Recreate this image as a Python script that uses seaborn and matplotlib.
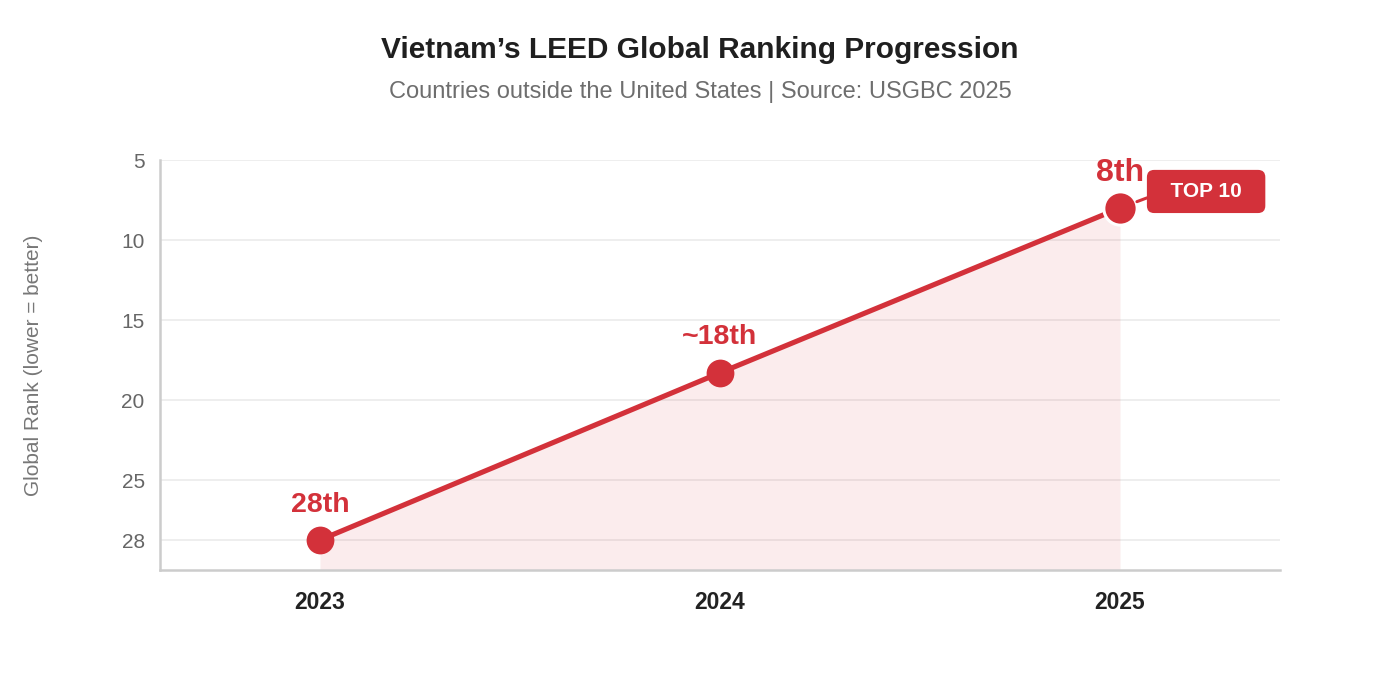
import matplotlib
matplotlib.use("Agg")
import matplotlib.pyplot as plt
import seaborn as sns
import pandas as pd
import numpy as np

years = [2023, 2024, 2025]
ranks = [28, 18.3, 8]
rank_labels = ["28th", "~18th", "8th"]
ytick_values = [5, 10, 15, 20, 25, 28]
xtick_labels = ["2023", "2024", "2025"]
badge_text = "  TOP 10  "
title = "Vietnam\u2019s LEED Global Ranking Progression"
subtitle = "Countries outside the United States | Source: USGBC 2025"
ylabel = "Global Rank (lower = better)"

RED = "#d3313a"
df = pd.DataFrame({"year": years, "rank": ranks})

sns.set_theme(style="white")
plt.rcParams["font.family"] = ["Liberation Sans", "DejaVu Sans"]

fig = plt.figure(figsize=(14, 6.8), dpi=100)
ax = fig.add_axes([160/1400, 110/680, 1120/1400, 410/680])


def fwd(y):
    y = np.asarray(y, dtype=float)
    return np.where(y <= 25, y, 25 + (y - 25) * 1.25)


def inv(y):
    y = np.asarray(y, dtype=float)
    return np.where(y <= 25, y, 25 + (y - 25) / 1.25)


ax.set_yscale("function", functions=(fwd, inv))

ymax = 29.5
ax.fill_between(df["year"], df["rank"], ymax, color=RED, alpha=0.09, linewidth=0, zorder=1)
sns.lineplot(data=df, x="year", y="rank", ax=ax, color=RED, linewidth=3.7, zorder=3)
sns.scatterplot(data=df.iloc[:2], x="year", y="rank", ax=ax, color=RED, s=400,
                edgecolor=RED, linewidth=0, zorder=4)
sns.scatterplot(data=df.iloc[2:], x="year", y="rank", ax=ax, color=RED, s=576,
                edgecolor="white", linewidth=2.2, zorder=5)

ax.set_xlim(2022.6, 2025.4)
ax.set_ylim(ymax, 5)
ax.set_yticks(ytick_values)
ax.set_yticklabels([str(v) for v in ytick_values], fontsize=15, color="#666666")
ax.yaxis.set_minor_locator(matplotlib.ticker.NullLocator())
ax.set_xticks(years)
ax.set_xticklabels(xtick_labels, fontsize=16.5, fontweight="bold", color="#222222")
ax.tick_params(axis="y", length=0, pad=11)
ax.tick_params(axis="x", length=0, pad=15)
ax.yaxis.grid(True, color="#ebebeb", linewidth=1.2)
ax.xaxis.grid(False)
ax.set_axisbelow(True)
for s in ["top", "right"]:
    ax.spines[s].set_visible(False)
for s in ["left", "bottom"]:
    ax.spines[s].set_color("#cccccc")
    ax.spines[s].set_linewidth(1.8)
ax.set_xlabel("")
ax.set_ylabel(ylabel, fontsize=15, color="#777777")
ax.yaxis.set_label_coords(-0.1045, 0.5)

for i, (yr, rk, lab) in enumerate(zip(years, ranks, rank_labels)):
    fs = 23 if i == 2 else 20.5
    ax.annotate(lab, (yr, rk), xytext=(0, 25.5), textcoords="offset points",
                ha="center", va="center", fontsize=fs, fontweight="bold",
                color=RED, zorder=6)

ax.annotate(badge_text, xy=(years[2], ranks[2]), xytext=(62, 11.9),
            textcoords="offset points", ha="center", va="center",
            fontsize=15, fontweight="bold", color="white", zorder=7,
            bbox=dict(boxstyle="round,pad=0.58,rounding_size=0.35", fc=RED, ec="none"),
            arrowprops=dict(arrowstyle="-", color=RED, lw=2.2, shrinkA=0, shrinkB=13,
                            relpos=(0, 0.4)),
            annotation_clip=False)

fig.text(0.5, 1 - 50/680, title, ha="center", va="center", fontsize=21.5,
         fontweight="bold", color="#1f1f1f")
fig.text(0.5, 1 - 92/680, subtitle, ha="center", va="center", fontsize=17,
         color="#6e6e6e")

fig.savefig("out.png", dpi=100, facecolor="white")
